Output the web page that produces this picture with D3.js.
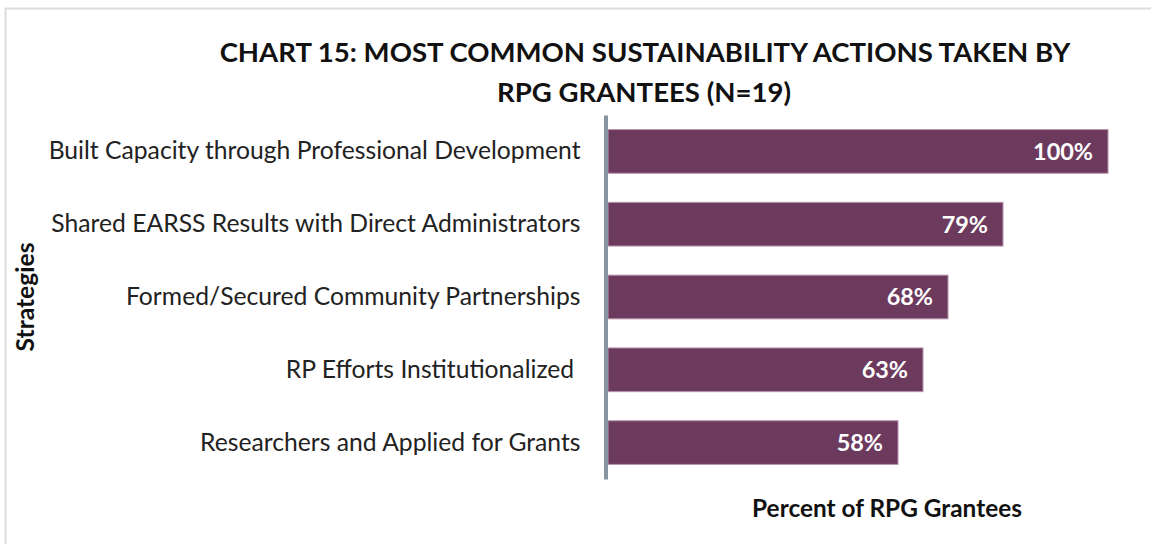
<!DOCTYPE html>
<html>
<head>
<meta charset="utf-8">
<script src="https://cdn.jsdelivr.net/npm/d3@7"></script>
<style>
  html, body { margin: 0; padding: 0; background: #fff; }
  svg text { font-family: Lato, "Open Sans", sans-serif; }
</style>
</head>
<body>
<svg id="chart"></svg>
<script>
// Chart 15 - horizontal bar chart

const categories = [
    "Built Capacity through Professional Development",
    "Shared EARSS Results with Direct Administrators",
    "Formed/Secured Community Partnerships",
    "RP Efforts Institutionalized ",
    "Researchers and Applied for Grants"
];
const values = [1.00, 0.79, 0.68, 0.63, 0.58];
const titleLines = [
    "CHART 15: MOST COMMON SUSTAINABILITY ACTIONS TAKEN BY",
    "RPG GRANTEES (N=19)"
];
const yAxisTitle = "Strategies";
const xAxisTitle = "Percent of RPG Grantees";

const width = 1151;
const height = 544;

const svg = d3.select("#chart")
    .attr("width", width)
    .attr("height", height);

// 外枠
svg.append("rect")
    .attr("x", 5.5)
    .attr("y", 8.5)
    .attr("width", width + 10)
    .attr("height", height + 10)
    .attr("fill", "none")
    .attr("stroke", "#d9dde2")
    .attr("stroke-width", 2);

// 幅に合わせてフォントサイズを調整
function fitWidth(sel, target) {
    const node = sel.node();
    const fs = parseFloat(sel.attr("font-size"));
    const w = node.getComputedTextLength();
    const size = fs * target / w;
    sel.attr("font-size", size);
    return size;
}

// scales
const x = d3.scaleLinear()
    .domain([0, 1])
    .range([608, 1108]);

const y = d3.scaleBand()
    .domain(categories)
    .range([115, 479])
    .paddingInner(0.4)
    .paddingOuter(0.2);

// bars
svg.append("g")
    .selectAll("rect")
    .data(values)
    .enter()
    .append("rect")
    .attr("x", x(0))
    .attr("y", (d, i) => y(categories[i]))
    .attr("width", d => x(d) - x(0))
    .attr("height", y.bandwidth())
    .attr("fill", "#6c3a5d")
    .attr("stroke", "#b692ad")
    .attr("stroke-width", 1);

// value labels
const valueLabels = svg.append("g")
    .selectAll("text")
    .data(values)
    .enter()
    .append("text")
    .attr("x", d => x(d) - 15)
    .attr("y", (d, i) => y(categories[i]) + y.bandwidth() / 2)
    .attr("dy", "0.36em")
    .attr("text-anchor", "end")
    .attr("font-size", 20)
    .attr("font-weight", "bold")
    .attr("fill", "#ffffff")
    .text(d => d3.format(".0%")(d));

const valSize = fitWidth(d3.select(valueLabels.nodes()[0]), 60);
valueLabels.attr("font-size", valSize);

// y axis
const yAxis = svg.append("g")
    .attr("transform", "translate(605.5,0)")
    .call(d3.axisLeft(y).tickSize(0).tickPadding(25).tickSizeOuter(0));

yAxis.select(".domain")
    .attr("stroke", "#8795a3")
    .attr("stroke-width", 4);

yAxis.selectAll(".tick text")
    .attr("fill", "#222")
    .attr("font-family", "Lato, 'Open Sans', sans-serif")
    .attr("font-size", 20)
    .style("white-space", "pre")
    .attr("xml:space", "preserve");

// カテゴリラベルのサイズを最長ラベルに合わせる
const firstTick = yAxis.select(".tick text");
const catSize = fitWidth(firstTick, 532);
yAxis.selectAll(".tick text").attr("font-size", catSize);

// title
const t1 = svg.append("text")
    .attr("x", 645)
    .attr("y", 62)
    .attr("text-anchor", "middle")
    .attr("font-size", 30)
    .attr("font-weight", "bold")
    .attr("fill", "#111")
    .text(titleLines[0]);
const titleSize = fitWidth(t1, 851);

svg.append("text")
    .attr("x", 644)
    .attr("y", 102)
    .attr("text-anchor", "middle")
    .attr("font-size", titleSize)
    .attr("font-weight", "bold")
    .attr("fill", "#111")
    .text(titleLines[1]);

// axis titles
const xt = svg.append("text")
    .attr("x", 887)
    .attr("y", 517)
    .attr("text-anchor", "middle")
    .attr("font-size", 19)
    .attr("font-weight", "bold")
    .attr("fill", "#111")
    .text(xAxisTitle);
fitWidth(xt, 270);

const yt = svg.append("text")
    .attr("transform", "translate(34,297) rotate(-90)")
    .attr("text-anchor", "middle")
    .attr("font-size", 19)
    .attr("font-weight", "bold")
    .attr("fill", "#111")
    .text(yAxisTitle);
fitWidth(yt, 109);
</script>
</body>
</html>
